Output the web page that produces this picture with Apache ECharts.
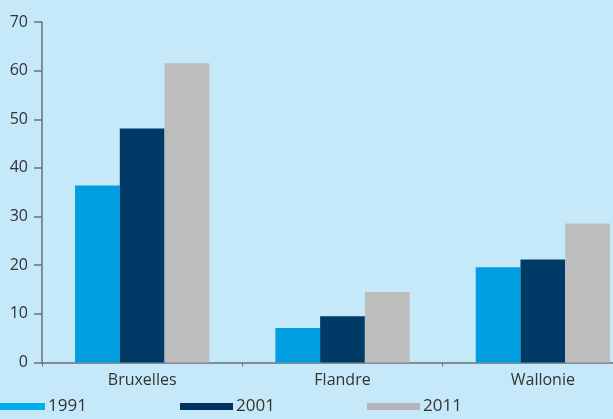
<!DOCTYPE html>
<html>
<head>
<meta charset="utf-8">
<script src="https://cdn.jsdelivr.net/npm/echarts@6/dist/echarts.min.js"></script>
<style>
  html, body { margin: 0; padding: 0; background: #c6e9f9; }
  #main { width: 613px; height: 419px; }
</style>
</head>
<body>
<div id="main"></div>
<script>
var regions = ['Bruxelles', 'Flandre', 'Wallonie'];
var years = ['1991', '2001', '2011'];
var v1991 = [36.4, 7.1, 19.6];
var v2001 = [48.1, 9.5, 21.2];
var v2011 = [61.5, 14.5, 28.6];
var yTicks = [0, 10, 20, 30, 40, 50, 60, 70];

var barColors = ['#009ee0', '#003b67', '#bdbdbd'];
var legendColors = ['#00aeef', '#00335f', '#b3b5b8'];
var legendLeft = [-8, 180, 367];

var font = '"Open Sans", "Noto Sans", sans-serif';

// one legend per year so the items can sit where the original has them
var legends = years.map(function (y, i) {
    return {
        data: [{ name: y, itemStyle: { color: legendColors[i] } }],
        left: legendLeft[i],
        top: 398,
        padding: 0,
        itemWidth: 53,
        itemHeight: 7,
        itemGap: 0,
        icon: 'rect',
        selectedMode: false,
        textStyle: { fontFamily: font, fontSize: 17, color: '#333', padding: [0, 0, 0, -2] }
    };
});

var chart = echarts.init(document.getElementById('main'));
chart.setOption({
    backgroundColor: '#c6e9f9',
    animation: false,
    legend: legends,
    // plot runs past the right edge, last group is cut off like the original
    grid: { left: 42, width: 601, top: 22, bottom: 56.5, containLabel: false, outerBoundsMode: 'none' },
    xAxis: {
        type: 'category',
        data: regions,
        axisLine: { lineStyle: { color: '#6d6e70', width: 1.5 } },
        axisTick: { show: true, length: 4, lineStyle: { color: '#6d6e70' } },
        axisLabel: { fontFamily: font, fontSize: 16, color: '#333', margin: 10 }
    },
    yAxis: {
        type: 'value',
        min: yTicks[0],
        max: yTicks[yTicks.length - 1],
        interval: 10,
        axisLine: { show: true, lineStyle: { color: '#6d6e70', width: 1.5 } },
        axisTick: { show: true, length: 8, lineStyle: { color: '#6d6e70', width: 1.5 } },
        axisLabel: { fontFamily: font, fontSize: 16, color: '#333', margin: 14 },
        splitLine: { show: false }
    },
    series: [
        { name: years[0], type: 'bar', data: v1991, barGap: 0, barCategoryGap: '33%', itemStyle: { color: barColors[0] } },
        { name: years[1], type: 'bar', data: v2001, barGap: 0, barCategoryGap: '33%', itemStyle: { color: barColors[1] } },
        { name: years[2], type: 'bar', data: v2011, barGap: 0, barCategoryGap: '33%', itemStyle: { color: barColors[2] } }
    ]
});
</script>
</body>
</html>
